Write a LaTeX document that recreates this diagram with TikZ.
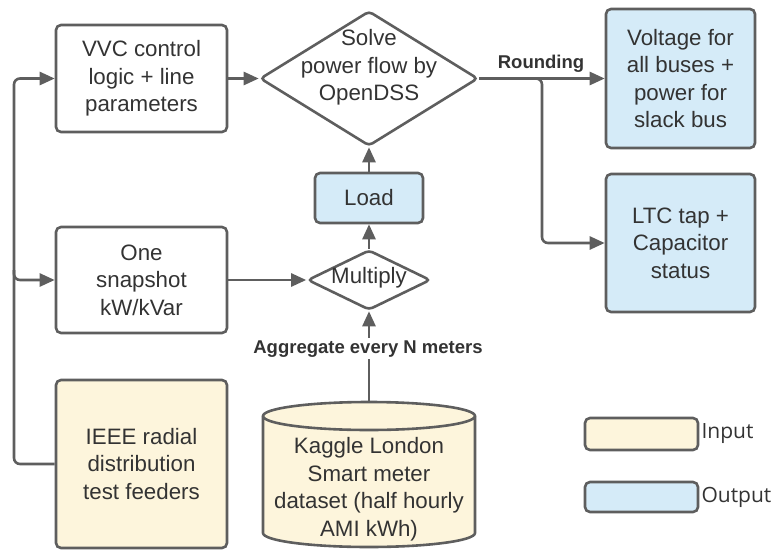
\documentclass[tikz,border=0pt]{standalone}
\usepackage{fontspec}
\setmainfont{Liberation Sans}
\newfontfamily\legendfont{Open Sans}
\usetikzlibrary{arrows.meta,shapes.geometric,calc}
\definecolor{edge}{HTML}{5E5E5E}
\definecolor{bluef}{HTML}{D5EBF8}
\definecolor{yelf}{HTML}{FDF5DC}
\definecolor{txt}{HTML}{333333}
\begin{document}
\begin{tikzpicture}[x=1pt,y=-1pt,
  txtf/.style={align=center, text=txt, font=\fontsize{22.3}{27.5}\selectfont, inner sep=0pt},
  box/.style={txtf, draw=edge, line width=2.6pt, rounded corners=5pt},
  dia/.style={diamond, draw=edge, line width=2.6pt, inner sep=0pt, rounded corners=4pt},
  arr/.style={draw=edge, line width=2.6pt, -{Triangle[length=15pt,width=13pt]}},
  lab/.style={font=\fontsize{18.5}{21}\selectfont\bfseries, text=txt},
  legtxt/.style={font=\legendfont\fontsize{21}{24}\selectfont, text=txt, inner sep=2pt}]
\useasboundingbox (0,0) rectangle (779,549);

% nodes
\node[box, minimum width=171, minimum height=107] (vvc) at (141.5,78.5) {VVC control\\logic + line\\parameters};
\node[dia, minimum width=218, minimum height=135,
      label={[txtf, yshift=11pt]center:{Solve\\power flow by\\OpenDSS}}] (solve) at (369,78.5) {};
\node[box, fill=bluef, minimum width=108, minimum height=50] (load) at (369,198) {Load};
\node[dia, minimum width=123, minimum height=60,
      label={[txtf, yshift=2pt]center:Multiply}] (mult) at (369,280) {};
\node[box, minimum width=171, minimum height=106] (snap) at (141.5,280) {One\\snapshot\\kW/kVar};
\node[box, fill=yelf, minimum width=171, minimum height=168] (ieee) at (141.5,464) {IEEE radial\\distribution\\test feeders};
\node[box, fill=bluef, minimum width=149, minimum height=139] (volt) at (680.5,78.5) {Voltage for\\all buses +\\power for\\slack bus};
\node[box, fill=bluef, minimum width=149, minimum height=138] (ltc) at (680.5,243) {LTC tap +\\Capacitor\\status};

% cylinder
\draw[draw=edge, line width=2.6pt, fill=yelf] (263,416) -- (263,533)
  arc[start angle=180, end angle=360, x radius=106pt, y radius=14pt] -- (475,416)
  arc[start angle=0, end angle=180, x radius=106pt, y radius=14pt] -- cycle;
\draw[draw=edge, line width=2.6pt] (263,416) arc[start angle=180, end angle=360, x radius=106pt, y radius=14pt];
\coordinate (ktop) at (369,402);
\node[txtf] (kag) at (369,489) {Kaggle London\\Smart meter\\dataset (half hourly\\AMI kWh)};

% legend
\node[box, fill=yelf, minimum width=113, minimum height=32] (lin) at (641.5,434) {};
\node[legtxt, anchor=west] (lint) at (lin.east) {Input};
\node[box, fill=bluef, minimum width=113, minimum height=30] (lout) at (641.5,497) {};
\node[legtxt, anchor=west] (loutt) at (lout.east) {Output};

% connectors
\draw[arr] (vvc.east) -- (solve.west);
\draw[arr] (load.north) -- (solve.south);
\draw[arr] (mult.north) -- (load.south);
\draw[arr] (snap.east) -- (mult.west);
\draw[arr] (ktop) -- (mult.south);
\node[lab, fill=white, inner sep=2pt, anchor=base] (agg) at (368,353) {Aggregate every N meters};
\draw[arr] (solve.east) -- (volt.west);
\node[lab, anchor=base, inner sep=0pt] (rnd) at (541,68) {Rounding};
\coordinate (br) at (542,78.5);
\draw[arr, rounded corners=6pt] ([xshift=-8pt]br) -| (br |- ltc.west) -- (ltc.west);
\coordinate (bus) at (14,464);
\draw[arr, rounded corners=6pt] (ieee.west) -- (bus) |- (vvc.west);
\coordinate (bj) at (bus |- snap.west);
\draw[arr, rounded corners=6pt] ([yshift=10pt]bj) |- (snap.west);
\end{tikzpicture}
\end{document}
